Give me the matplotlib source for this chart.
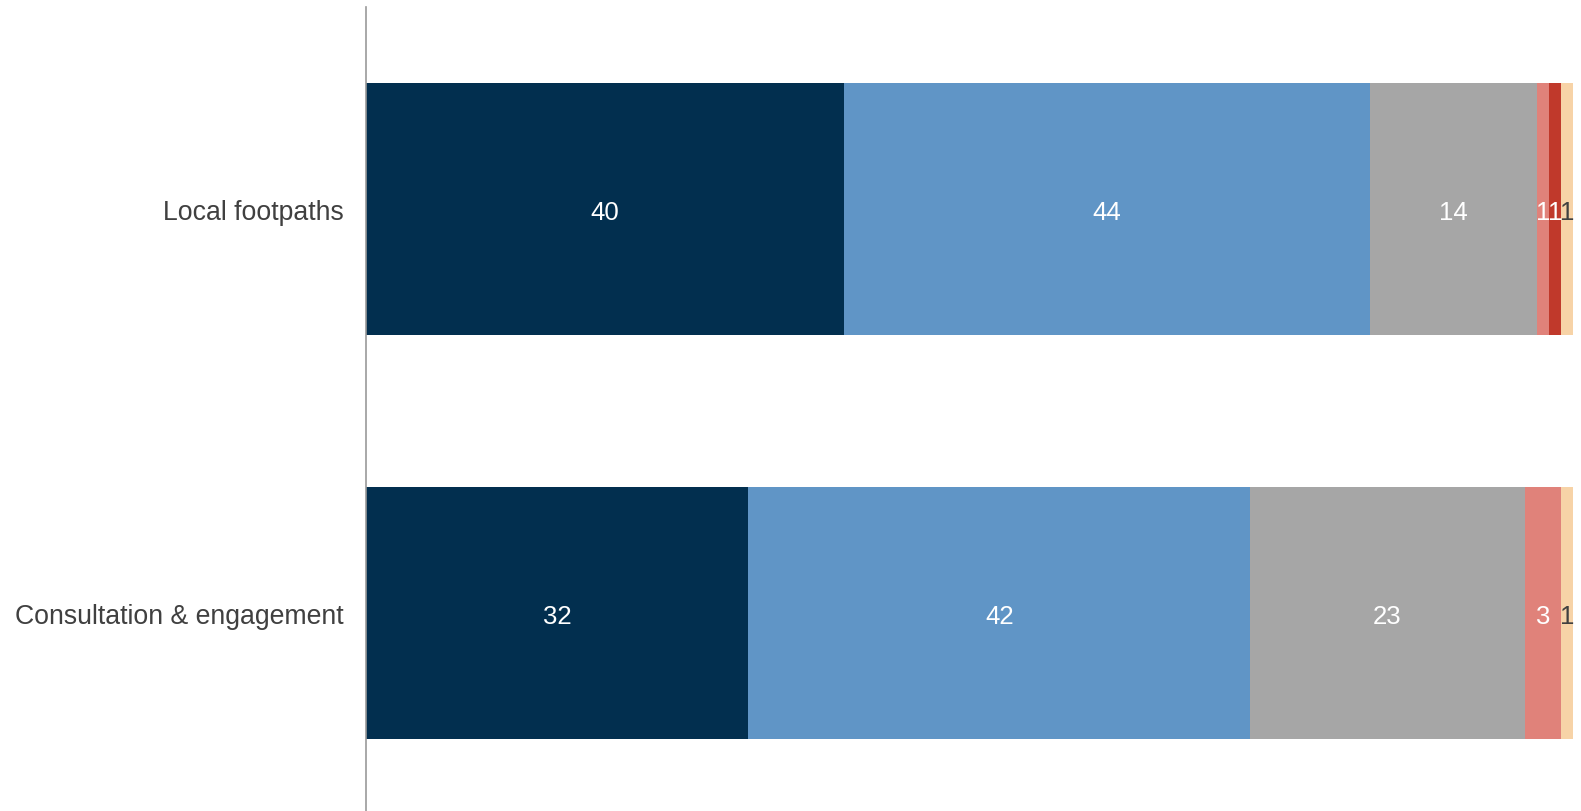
import matplotlib
matplotlib.use('Agg')
import matplotlib.pyplot as plt
import numpy as np

plt.rcParams['font.family'] = ['Liberation Sans', 'DejaVu Sans']

categories = ['Local footpaths', 'Consultation & engagement']
series_names = ['s1', 's2', 's3', 's4', 's5', 's6']
values = {
    's1': [40, 32],
    's2': [44, 42],
    's3': [14, 23],
    's4': [1, 3],
    's5': [1, 0],
    's6': [1, 1],
}
colors = ['#022f4f', '#6095c6', '#a6a6a6', '#e0827a', '#c0392b', '#f7d3a7']
text_colors = ['white', 'white', 'white', 'white', 'white', '#404040']

fig = plt.figure(figsize=(15.81, 8.12), dpi=100)
ax = fig.add_axes([366 / 1581, 0, (1572.7 - 366) / 1581, 804 / 812])

y = np.arange(len(categories))
left = np.zeros(len(categories))
for i, name in enumerate(series_names):
    vals = np.array(values[name], dtype=float)
    ax.barh(y, vals, left=left, height=0.624, color=colors[i], edgecolor='none')
    for j, v in enumerate(vals):
        if v > 0:
            ax.text(left[j] + v / 2, y[j], '%d' % v, ha='center',
                    va='center_baseline', color=text_colors[i], fontsize=18.5)
    left += vals

ax.set_xlim(0, 101)
ax.set_ylim(1.49, -0.5)
ax.set_yticks(y)
ax.set_yticklabels(categories, fontsize=19.2, color='#404040')
ax.tick_params(axis='y', length=0, pad=16)
ax.set_xticks([])
for s in ['top', 'right', 'bottom']:
    ax.spines[s].set_visible(False)
ax.spines['left'].set_color('#999999')
ax.spines['left'].set_linewidth(1.2)

fig.savefig('out.png', dpi=100)
